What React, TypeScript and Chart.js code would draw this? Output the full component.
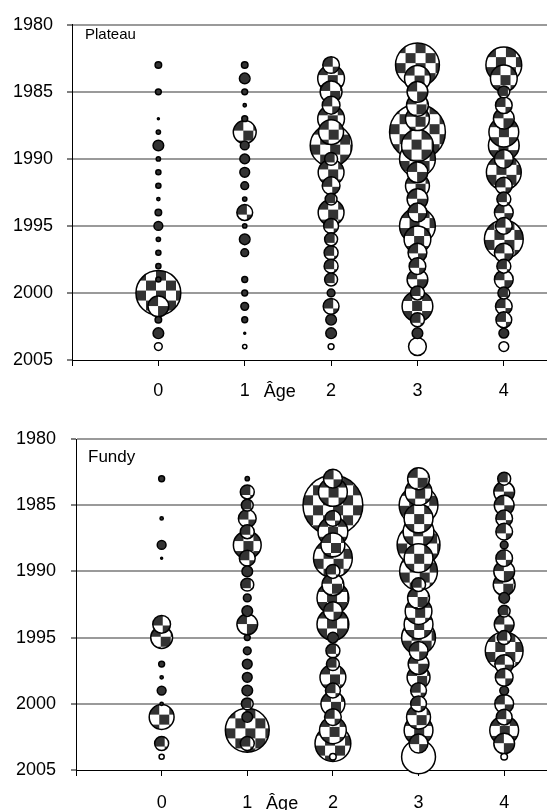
import React, { useEffect, useRef } from 'react';
import { Chart, registerables } from 'chart.js';

Chart.register(...registerables);

// ---------- data ----------
const years = [1983, 1984, 1985, 1986, 1987, 1988, 1989, 1990, 1991, 1992, 1993, 1994, 1995, 1996, 1997, 1998, 1999, 2000, 2001, 2002, 2003, 2004];
const ages = [0, 1, 2, 3, 4];
const yTickValues = [1980, 1985, 1990, 1995, 2000, 2005];
const xTickValues = [-1, 0, 1, 2, 3, 4];

// Plateau (relative abundance index, bubble area)
const plateauAge0 = [0.6, 0, 0.5, 0, 0.1, 0.3, 1.4, 0.3, 0.4, 0.4, 0.2, 0.6, 1.0, 0.3, 0.4, 0.4, 0.4, 21.2, 4.8, 0.6, 1.4, 0.8];
const plateauAge1 = [0.6, 1.4, 0.5, 0.2, 0.5, 5.8, 1.0, 1.2, 1.2, 0.8, 0.3, 2.9, 0.3, 1.4, 0.8, 0, 0.5, 0.5, 0.8, 0.5, 0.1, 0.3];
const plateauAge2 = [3.2, 7.8, 5.3, 3.6, 7.8, 6.8, 18.5, 2.0, 7.3, 3.6, 1.7, 7.3, 2.6, 2.0, 2.3, 2.3, 2.0, 0.8, 2.9, 1.4, 1.4, 0.5];
const plateauAge3 = [20.3, 7.3, 4.8, 5.3, 6.3, 32.5, 10.9, 13.7, 4.8, 6.3, 4.8, 4.0, 13.7, 7.8, 4.0, 3.2, 4.8, 2.3, 10.2, 2.3, 1.4, 3.6];
const plateauAge4 = [13.7, 7.8, 1.7, 3.2, 4.8, 9.6, 10.2, 4.0, 13.0, 3.2, 2.3, 4.0, 3.2, 16.0, 4.0, 2.3, 4.0, 1.7, 3.2, 2.9, 1.2, 1.2];

// Fundy
const fundyAge0 = [0.5, 0, 0, 0.2, 0, 1.0, 0.1, 0, 0, 0, 0, 3.6, 5.3, 0, 0.5, 0.2, 1.0, 0.2, 6.8, 0, 2.3, 0.4];
const fundyAge1 = [0.3, 2.3, 1.7, 3.6, 2.3, 8.4, 2.9, 1.4, 2.0, 0.8, 1.4, 4.8, 0.5, 0.8, 1.2, 1.2, 1.4, 1.7, 1.4, 20.3, 2.3, 0];
const fundyAge2 = [4.0, 9.0, 37.2, 2.9, 9.6, 6.3, 16.0, 2.3, 5.3, 10.9, 4.0, 10.9, 1.4, 2.3, 2.0, 7.3, 2.6, 6.3, 3.2, 7.8, 13.7, 0.6];
const fundyAge3 = [5.3, 7.8, 16.0, 9.0, 10.2, 19.4, 9.0, 15.2, 2.3, 5.3, 7.8, 9.0, 12.3, 4.0, 4.8, 5.8, 2.9, 2.9, 6.3, 9.0, 4.0, 12.3];
const fundyAge4 = [2.0, 4.8, 4.4, 3.2, 3.2, 0.8, 3.2, 4.8, 5.3, 1.4, 1.7, 4.4, 2.3, 15.2, 4.0, 3.6, 1.0, 4.0, 2.9, 9.0, 4.8, 0.6];

const plateauSeries = [plateauAge0, plateauAge1, plateauAge2, plateauAge3, plateauAge4];
const fundySeries = [fundyAge0, fundyAge1, fundyAge2, fundyAge3, fundyAge4];

const lastYear = 2004;

// ---------- styles ----------
const FONT = "'Liberation Sans', Arial, Helvetica, sans-serif";
const DARK = '#333333';
const CELL = 10;
const SIZE_SCALE = 5;

let tileCanvas: HTMLCanvasElement | null = null;
function getTile(): HTMLCanvasElement {
  if (tileCanvas) return tileCanvas;
  const t = document.createElement('canvas');
  t.width = CELL * 2;
  t.height = CELL * 2;
  const g = t.getContext('2d')!;
  g.fillStyle = '#ffffff';
  g.fillRect(0, 0, CELL * 2, CELL * 2);
  g.fillStyle = DARK;
  g.fillRect(0, 0, CELL, CELL);
  g.fillRect(CELL, CELL, CELL, CELL);
  tileCanvas = t;
  return t;
}

function bubbleFill(c: any) {
  const raw = c.raw;
  if (!raw) return DARK;
  if (raw.y === lastYear) return '#ffffff';
  const chart = c.chart;
  const px = chart.scales.x.getPixelForValue(raw.x);
  const py = chart.scales.y.getPixelForValue(raw.y);
  const pat = chart.ctx.createPattern(getTile(), 'repeat');
  if (!pat) return DARK;
  pat.setTransform(new DOMMatrix([1, 0, 0, 1, px - raw.r, py - raw.r]));
  return pat;
}

function buildDatasets(series: number[][]) {
  return ages.map((age, ai) => {
    const pts = years
      .map((yr, yi) => ({ x: age, y: yr, v: series[ai][yi] }))
      .filter((p) => p.v > 0)
      .map((p) => ({ x: p.x, y: p.y, r: Math.max(1, SIZE_SCALE * Math.sqrt(p.v) - 0.6) }))
      .sort((a, b) => b.r - a.r);
    return {
      label: 'Âge ' + age,
      data: pts,
      backgroundColor: bubbleFill,
      borderColor: '#000000',
      borderWidth: 1.5,
      clip: false as any,
    };
  });
}

interface PanelCfg {
  name: string;
  nameSize: number;
  nameDx: number;
  nameDy: number;
  padTop: number;
  yWidth: number;
  xHeight: number;
  xPad: number;
  yPad: number;
  ageDy: number;
}

function makeChart(canvas: HTMLCanvasElement, series: number[][], cfg: PanelCfg) {
  const textPlugin = {
    id: 'panelText',
    afterDraw(chart: any) {
      const { ctx, chartArea, scales } = chart;
      ctx.save();
      ctx.fillStyle = '#000';
      ctx.textBaseline = 'alphabetic';
      ctx.textAlign = 'left';
      ctx.font = `${cfg.nameSize}px ${FONT}`;
      ctx.fillText(cfg.name, chartArea.left + cfg.nameDx, chartArea.top + cfg.nameDy);
      ctx.font = `18px ${FONT}`;
      ctx.fillText('Âge', scales.x.getPixelForValue(1.22), chartArea.bottom + cfg.ageDy);
      ctx.restore();
    },
  };

  return new Chart(canvas, {
    type: 'bubble',
    data: { datasets: buildDatasets(series) as any },
    plugins: [textPlugin],
    options: {
      animation: false,
      responsive: false,
      events: [],
      layout: { autoPadding: false, padding: { top: cfg.padTop, left: 0, right: 0, bottom: 0 } },
      plugins: {
        legend: { display: false },
        tooltip: { enabled: false },
      },
      scales: {
        x: {
          type: 'linear',
          min: -1,
          max: 4.5,
          afterBuildTicks: (s: any) => {
            s.ticks = xTickValues.map((v) => ({ value: v }));
          },
          afterFit: (s: any) => {
            s.height = cfg.xHeight;
          },
          grid: {
            drawOnChartArea: false,
            drawTicks: true,
            tickLength: 6,
            tickColor: '#000',
            tickWidth: 1,
            color: '#000',
          },
          border: { display: true, color: '#000', width: 1 },
          ticks: {
            callback: (v: any) => (v < 0 ? '' : String(v)),
            font: { family: FONT, size: 18 },
            color: '#000',
            padding: cfg.xPad,
            maxRotation: 0,
            autoSkip: false,
          },
        },
        y: {
          type: 'linear',
          reverse: true,
          min: 1980,
          max: 2005,
          afterBuildTicks: (s: any) => {
            s.ticks = yTickValues.map((v) => ({ value: v }));
          },
          afterFit: (s: any) => {
            s.width = cfg.yWidth;
          },
          grid: {
            color: (c: any) => (c.tick && c.tick.value === 2005 ? 'rgba(0,0,0,0)' : '#9a9a9a'),
            lineWidth: 2,
            drawTicks: true,
            tickLength: 5,
            tickColor: '#000',
            tickWidth: 1,
          },
          border: { display: true, color: '#000', width: 1 },
          ticks: {
            callback: (v: any) => String(v),
            font: { family: FONT, size: 18 },
            color: '#000',
            padding: cfg.yPad,
            autoSkip: false,
          },
        },
      },
    } as any,
  });
}

export default function App() {
  const topRef = useRef<HTMLCanvasElement>(null);
  const botRef = useRef<HTMLCanvasElement>(null);

  useEffect(() => {
    const top = makeChart(topRef.current!, plateauSeries, {
      name: 'Plateau',
      nameSize: 15,
      nameDx: 13,
      nameDy: 14.5,
      padTop: 23,
      yWidth: 72,
      xHeight: 50,
      xPad: 14,
      yPad: 14,
      ageDy: 37,
    });
    const bot = makeChart(botRef.current!, fundySeries, {
      name: 'Fundy',
      nameSize: 17,
      nameDx: 12,
      nameDy: 22.5,
      padTop: 29,
      yWidth: 76,
      xHeight: 40,
      xPad: 16,
      yPad: 15,
      ageDy: 39,
    });
    return () => {
      top.destroy();
      bot.destroy();
    };
  }, []);

  return (
    <div style={{ position: 'absolute', left: 0, top: 0, width: 547, height: 810, background: '#fff' }}>
      <canvas ref={topRef} width={547} height={410} style={{ display: 'block' }} />
      <canvas ref={botRef} width={547} height={400} style={{ display: 'block' }} />
    </div>
  );
}
